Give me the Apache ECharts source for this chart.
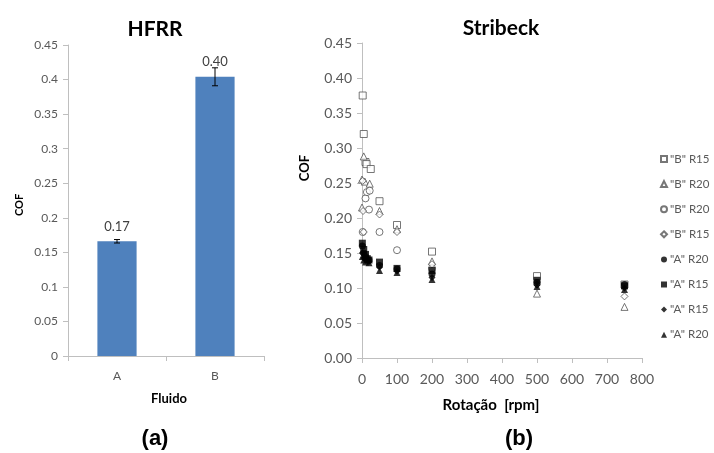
<!DOCTYPE html>
<html>
<head>
<meta charset="UTF-8">
<title>HFRR / Stribeck</title>
<script src="https://cdn.jsdelivr.net/npm/echarts@6/dist/echarts.min.js"></script>
<style>
  html, body { margin: 0; padding: 0; background: #fff; }
  #chart { width: 714px; height: 453px; }
</style>
</head>
<body>
<div id="chart"></div>
<script>
// HFRR (a)
var fluidos = ['A', 'B'];
var cofHfrr = [0.166, 0.404];
var errHfrr = [0.0025, 0.013];

// Stribeck (b): [rpm, COF]
// nomes repetidos na legenda: espaços no fim só para ficarem distintos
var serieNomes = ['"B" R15', '"B" R20', '"B" R20 ', '"B" R15 ', '"A" R20', '"A" R15', '"A" R15 ', '"A" R20 '];
var serieSimbolos = ['rect', 'triangle', 'circle', 'diamond', 'circle', 'rect', 'diamond', 'triangle'];
var serieCheio = [false, false, false, false, true, true, true, true];
var bR15q = [[2, 0.375], [5, 0.32], [10, 0.28], [13, 0.277], [25, 0.27], [50, 0.224], [100, 0.19], [200, 0.152], [500, 0.117], [750, 0.105]];
var bR20t = [[0, 0.255], [5, 0.288], [8, 0.252], [22, 0.249], [0, 0.215], [50, 0.21], [100, 0.184], [200, 0.138], [500, 0.092], [750, 0.073]];
var bR20c = [[2, 0.18], [10, 0.228], [14, 0.237], [22, 0.239], [20, 0.212], [50, 0.18], [100, 0.154], [200, 0.128]];
var bR15d = [[2, 0.253], [3, 0.21], [5, 0.18], [50, 0.205], [100, 0.18], [200, 0.134], [500, 0.105], [750, 0.088]];
var aR20c = [[1, 0.16], [5, 0.15], [10, 0.145], [20, 0.14], [50, 0.132], [100, 0.127], [200, 0.12], [500, 0.108], [750, 0.105]];
var aR15q = [[1, 0.164], [5, 0.155], [10, 0.148], [15, 0.142], [20, 0.14], [50, 0.137], [100, 0.128], [200, 0.125], [500, 0.111], [750, 0.103]];
var aR15d = [[1, 0.15], [5, 0.143], [10, 0.14], [20, 0.138], [50, 0.13], [100, 0.124], [200, 0.115], [500, 0.104], [750, 0.1]];
var aR20t = [[1, 0.145], [5, 0.14], [10, 0.137], [20, 0.136], [50, 0.125], [100, 0.122], [200, 0.112], [500, 0.102], [750, 0.098]];
var serieDados = [bR15q, bR20t, bR20c, bR15d, aR20c, aR15q, aR15d, aR20t];

var fonte = 'Lato, "Open Sans", sans-serif';
var cinzaEixo = '#bfbfbf';
var cinzaTexto = '#595959';

var myChart = echarts.init(document.getElementById('chart'));

var seriesStribeck = serieDados.map(function (d, i) {
    return {
        name: serieNomes[i],
        type: 'scatter',
        xAxisIndex: 1,
        yAxisIndex: 1,
        symbol: serieSimbolos[i],
        symbolSize: 7,
        data: d,
        itemStyle: serieCheio[i]
            ? { color: '#000', borderColor: '#000', borderWidth: 0 }
            : { color: '#fff', borderColor: '#555', borderWidth: 1 },
        z: serieCheio[i] ? 3 : 2
    };
});

var option = {
    backgroundColor: '#fff',
    animation: false,
    textStyle: { fontFamily: fonte },
    legend: {
        data: serieNomes,
        orient: 'vertical',
        left: 655,
        top: 147,
        itemGap: 11.1,
        itemWidth: 6,
        itemHeight: 6,
        selectedMode: false,
        formatter: function (n) { return n.replace(/\s+$/, ''); },
        textStyle: { fontSize: 11.5, lineHeight: 14, color: cinzaTexto, fontFamily: fonte, padding: [0, 0, 0, -2] }
    },
    grid: [
        { left: 68, right: 450, top: 45, bottom: 97 },
        { left: 362, right: 72, top: 43, bottom: 95 }
    ],
    xAxis: [
        {
            type: 'category',
            gridIndex: 0,
            data: fluidos,
            axisLine: { lineStyle: { color: cinzaEixo } },
            axisTick: { show: true, length: 5, lineStyle: { color: cinzaEixo } },
            axisLabel: { color: cinzaTexto, fontSize: 12, margin: 14 }
        },
        {
            type: 'value',
            gridIndex: 1,
            min: 0,
            max: 800,
            interval: 100,
            splitLine: { show: false },
            axisLine: { show: true, lineStyle: { color: cinzaEixo } },
            axisTick: { show: true, length: 5, lineStyle: { color: cinzaEixo } },
            axisLabel: { color: cinzaTexto, fontSize: 14, margin: 14 }
        }
    ],
    yAxis: [
        {
            type: 'value',
            gridIndex: 0,
            min: 0,
            max: 0.45,
            interval: 0.05,
            splitLine: { show: false },
            axisLine: { show: true, lineStyle: { color: cinzaEixo } },
            axisTick: { show: true, length: 5, lineStyle: { color: cinzaEixo } },
            axisLabel: { color: cinzaTexto, fontSize: 12, margin: 10 }
        },
        {
            type: 'value',
            gridIndex: 1,
            min: 0,
            max: 0.45,
            interval: 0.05,
            splitLine: { show: false },
            axisLine: { show: true, lineStyle: { color: cinzaEixo } },
            axisTick: { show: true, length: 5, lineStyle: { color: cinzaEixo } },
            axisLabel: {
                color: cinzaTexto, fontSize: 14, margin: 10,
                formatter: function (v) { return v.toFixed(2); }
            }
        }
    ],
    graphic: [
        { type: 'text', x: 155, y: 29, style: { text: 'HFRR', font: 'bold 21px ' + fonte, fill: '#000', align: 'center', verticalAlign: 'middle' } },
        { type: 'text', x: 501, y: 28, style: { text: 'Stribeck', font: 'bold 21px ' + fonte, fill: '#000', align: 'center', verticalAlign: 'middle' } },
        { type: 'text', x: 19, y: 205, rotation: Math.PI / 2, style: { text: 'COF', font: 'bold 11px ' + fonte, fill: '#000', align: 'center', verticalAlign: 'middle' } },
        { type: 'text', x: 169, y: 399, style: { text: 'Fluido', font: 'bold 13px ' + fonte, fill: '#000', align: 'center', verticalAlign: 'middle' } },
        { type: 'text', x: 305, y: 168, rotation: Math.PI / 2, style: { text: 'COF', font: 'bold 13px ' + fonte, fill: '#000', align: 'center', verticalAlign: 'middle' } },
        { type: 'text', x: 491, y: 405, style: { text: 'Rotação  [rpm]', font: 'bold 15px ' + fonte, fill: '#000', align: 'center', verticalAlign: 'middle' } },
        { type: 'text', x: 155, y: 439, style: { text: '(a)', font: 'bold 22px "Liberation Sans", Arial, sans-serif', fill: '#000', align: 'center', verticalAlign: 'middle' } },
        { type: 'text', x: 519, y: 439, style: { text: '(b)', font: 'bold 22px "Liberation Sans", Arial, sans-serif', fill: '#000', align: 'center', verticalAlign: 'middle' } }
    ],
    series: [
        {
            type: 'bar',
            xAxisIndex: 0,
            yAxisIndex: 0,
            barWidth: '40%',
            data: cofHfrr,
            itemStyle: { color: '#4f81bd' },
            label: {
                show: true,
                position: 'top',
                distance: 8,
                color: '#404040',
                fontSize: 13,
                formatter: function (p) { return p.value.toFixed(2); }
            }
        },
        {
            type: 'custom',
            xAxisIndex: 0,
            yAxisIndex: 0,
            data: cofHfrr.map(function (v, i) { return [i, v - errHfrr[i], v + errHfrr[i]]; }),
            renderItem: function (params, api) {
                var lo = api.coord([api.value(0), api.value(1)]);
                var hi = api.coord([api.value(0), api.value(2)]);
                var w = 3;
                var st = { stroke: '#000', lineWidth: 1 };
                return {
                    type: 'group',
                    children: [
                        { type: 'line', shape: { x1: lo[0], y1: lo[1], x2: hi[0], y2: hi[1] }, style: st },
                        { type: 'line', shape: { x1: lo[0] - w, y1: lo[1], x2: lo[0] + w, y2: lo[1] }, style: st },
                        { type: 'line', shape: { x1: hi[0] - w, y1: hi[1], x2: hi[0] + w, y2: hi[1] }, style: st }
                    ]
                };
            },
            z: 5
        }
    ].concat(seriesStribeck)
};

myChart.setOption(option);
</script>
</body>
</html>
